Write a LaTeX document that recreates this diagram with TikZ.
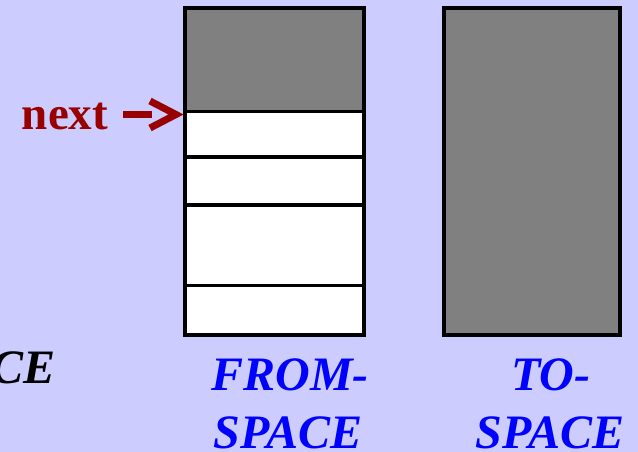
\documentclass[tikz,border=0pt]{standalone}
\usepackage{fontspec}
\setmainfont{Liberation Serif}
\definecolor{bg}{HTML}{CCCCFF}
\definecolor{darkred}{HTML}{990000}
\definecolor{memgray}{HTML}{808080}
\tikzset{
  outline/.style={draw=black,line width=4pt,outer sep=0pt},
  divider/.style={draw=black,line width=3.5pt},
  label/.style={inner sep=0pt,anchor=base,text=blue,font=\fontsize{48}{48}\selectfont\bfseries\itshape},
  nextlbl/.style={inner sep=0pt,anchor=base,text=darkred,font=\fontsize{47}{47}\selectfont\bfseries},
  pointer/.style={draw=darkred,line width=7pt}
}
\begin{document}
\begin{tikzpicture}[x=1pt,y=-1pt]
\useasboundingbox (0,0) rectangle (638,452);
\fill[bg] (0,0) rectangle (638,452);
\clip (0,0) rectangle (638,452);
% from-space
\fill[white] (185,111) rectangle (363.5,335);
\fill[memgray] (185,8) rectangle (363.5,111);
\draw[divider] (185,111.5) -- (363.5,111.5);
\draw[divider] (185,157) -- (363.5,157);
\draw[divider] (185,205) -- (363.5,205);
\draw[divider] (185,285.5) -- (363.5,285.5);
\node[outline,rectangle,inner sep=0pt,minimum width=178.5pt,minimum height=327pt,anchor=north west] (from) at (185,8) {};
% to-space
\node[outline,fill=memgray,rectangle,inner sep=0pt,minimum width=176pt,minimum height=327pt,anchor=north west] (to) at (444,8) {};
% next pointer
\node[nextlbl] (next) at (65,129) {next};
\coordinate (tip) at (176,114.5);
\draw[pointer,line cap=butt] (123,114.5) -- (152,114.5);
\draw[pointer,line join=miter,line cap=butt] (150,101) -- (tip) -- (150,128);
% labels
\node[label] (f1) at (290,390) {FROM-};
\node[label] (f2) at (288,448) {SPACE};
\node[label] (t1) at (551,390) {TO-};
\node[label] (t2) at (550,448) {SPACE};
\node[label,text=black,anchor=base east] (ce) at (56,383) {CE};
\end{tikzpicture}
\end{document}
